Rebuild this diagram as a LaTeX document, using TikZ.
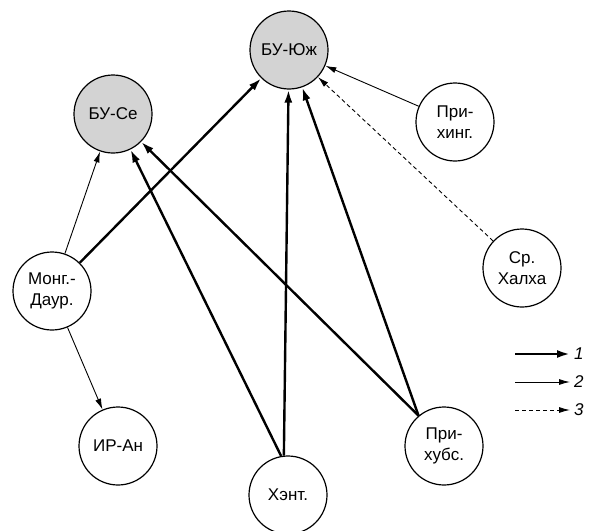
\documentclass[tikz,border=0pt]{standalone}
\usepackage{fontspec}
\setmainfont{Liberation Sans}
\usetikzlibrary{arrows.meta}
\definecolor{nodegray}{RGB}{211,211,211}
\begin{document}
\begin{tikzpicture}[x=1pt,y=-1pt,
  every node/.style={font=\fontsize{17}{21}\selectfont},
  pop/.style={circle,draw,line width=1.2pt,minimum size=78pt,inner sep=0pt,align=center},
  popg/.style={pop,fill=nodegray},
  strong/.style={line width=2.4pt,-{Latex[length=13pt,width=8pt]}},
  weak/.style={line width=0.9pt,-{Latex[length=11pt,width=6pt]}},
  weakd/.style={weak,dash pattern=on 4pt off 3pt},
  leglab/.style={anchor=west,inner sep=0pt,font=\fontsize{17}{21}\selectfont\itshape}]
\useasboundingbox (0,0) rectangle (591,530);
\node[popg] (buyuzh) at (289,50) {БУ-Юж};
\node[popg] (buse) at (113,114) {БУ-Се};
\node[pop] (prihing) at (455,122) {При-\\хинг.};
\node[pop] (srhal) at (522,268) {Ср.\\Халха};
\node[pop] (mong) at (52,291) {Монг.-\\Даур.};
\node[pop] (iran) at (118,446) {ИР-Ан};
\node[pop] (xent) at (288,495) {Хэнт.};
\node[pop] (prihub) at (444,446) {При-\\хубс.};
% connectors
\draw[weak] (mong) -- (buse);
\draw[weak] (mong) -- (iran);
\draw[strong] (mong) -- (buyuzh);
\draw[strong] (xent.100) -- (buse);
\draw[strong] (xent.96) -- (buyuzh);
\draw[strong] (prihub.130) -- (buse);
\draw[strong] (prihub.130) -- (buyuzh);
\draw[weak] (prihing) -- (buyuzh);
\draw[weakd] (srhal) -- (buyuzh);
% legend
\coordinate (l1a) at (515,354); \coordinate (l1b) at (570,354);
\coordinate (l2a) at (515,382); \coordinate (l2b) at (570,382);
\coordinate (l3a) at (515,410); \coordinate (l3b) at (570,410);
\draw[strong] (l1a) -- (l1b);
\draw[weak] (l2a) -- (l2b);
\draw[weakd] (l3a) -- (l3b);
\node[leglab] (t1) at (574,354) {1};
\node[leglab] (t2) at (574,382) {2};
\node[leglab] (t3) at (574,410) {3};
\end{tikzpicture}
\end{document}
